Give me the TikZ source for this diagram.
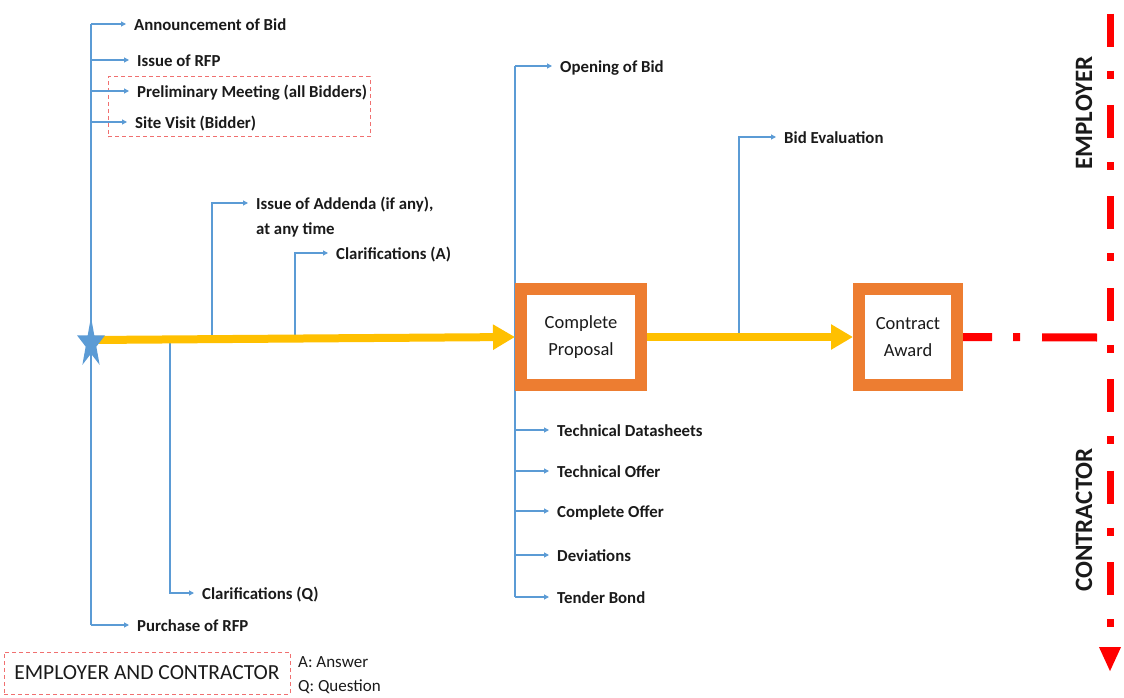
\documentclass[tikz,border=0pt]{standalone}
\usepackage{fontspec}
\setmainfont{Carlito}
\usetikzlibrary{arrows.meta}
\definecolor{lineblue}{HTML}{5B9BD5}
\definecolor{flowyellow}{HTML}{FFC000}
\definecolor{boxorange}{HTML}{ED7D31}
\definecolor{splitred}{HTML}{FF0000}
\definecolor{dashred}{HTML}{F07070}
\definecolor{txt}{HTML}{1A1A1A}
\begin{document}
\begin{tikzpicture}[x=1pt,y=-1pt,
  lbl/.style={anchor=west, inner sep=0pt, text=txt,
    font=\fontsize{16.8}{20}\selectfont\bfseries, text height=15pt, text depth=2pt},
  bline/.style={draw=lineblue, line width=1.1pt},
  barr/.style={bline, -{Triangle[length=5pt,width=5pt]}},
  flow/.style={draw=flowyellow, line width=8pt, -{Triangle[length=22pt,width=24pt]}},
  obox/.style={draw=boxorange, line width=12pt, fill=white, inner sep=0pt,
    minimum height=96pt, align=center, text=txt,
    font=\fontsize{18.5}{27}\selectfont},
  dashbox/.style={draw=dashred, line width=1pt, dash pattern=on 4pt off 3pt, inner sep=0pt},
  sidelbl/.style={rotate=90, inner sep=0pt, text=txt, font=\fontsize{25}{29}\selectfont\bfseries},
]
\useasboundingbox (0,0) rectangle (1124,698);

% ---- process boxes
\node[obox, minimum width=120pt] (cp) at (581,337) {Complete\\Proposal};
\node[obox, minimum width=98pt] (ca) at (908,337) {Contract\\Award};

% ---- start marker (centre point; the star itself is filled later)
\coordinate (star) at (91,343.5);

% ---- labels on the left trunk
\node[lbl] (lAnn)  at (134,24)  {Announcement of Bid};
\node[lbl] (lRFP)  at (137,60)  {Issue of RFP};
\node[lbl] (lPre)  at (137,91)  {Preliminary Meeting (all Bidders)};
\node[lbl] (lSite) at (135,122) {Site Visit (Bidder)};
\node[lbl] (lPur)  at (137,625) {Purchase of RFP};
\node[dashbox, minimum width=262pt, minimum height=60pt] (grp) at (239,107) {};

% ---- labels along the bidding period
\node[lbl] (lAdd)  at (256,203) {Issue of Addenda (if any),};
\node[lbl] (lAdd2) at (256,228) {at any time};
\node[lbl] (lClA)  at (336,253) {Clarifications (A)};
\node[lbl] (lClQ)  at (202,593) {Clarifications (Q)};

% ---- labels at the proposal
\node[lbl] (lOpen) at (560,66)  {Opening of Bid};
\node[lbl] (lTD)   at (557,430) {Technical Datasheets};
\node[lbl] (lTO)   at (557,471) {Technical Offer};
\node[lbl] (lCO)   at (557,511) {Complete Offer};
\node[lbl] (lDev)  at (557,555) {Deviations};
\node[lbl] (lTB)   at (557,597) {Tender Bond};
\node[lbl] (lEval) at (784,137) {Bid Evaluation};

% ---- junctions on the main flow
\coordinate (yStart) at (91,340);
\coordinate (jQ)  at (170,340);
\coordinate (jAd) at (212,339);
\coordinate (jA)  at (295,338);
\coordinate (jEv) at (739,337);

% ---- left trunk and its branches
\draw[bline] (star |- lAnn.west) -- (star |- lPur.west);
\foreach \n in {lAnn,lRFP,lPre,lSite,lPur}
  \draw[barr] (star |- \n.west) -- ([xshift=-8pt]\n.west);

% ---- branches off the main flow
\draw[barr] (jAd) |- ([xshift=-8pt]lAdd.west);
\draw[barr] (jA)  |- ([xshift=-8pt]lClA.west);
\draw[barr] (jQ)  |- ([xshift=-8pt]lClQ.west);
\draw[barr] (jEv) |- ([xshift=-8pt]lEval.west);

% ---- proposal trunk and its branches
\draw[bline] (cp.west |- lOpen.west) -- (cp.west |- lTB.west);
\foreach \n in {lOpen,lTD,lTO,lCO,lDev,lTB}
  \draw[barr] (cp.west |- \n.west) -- ([xshift=-8pt]\n.west);

% ---- main flow
\draw[flow] (yStart) -- (cp.west);
\draw[flow] (cp.east) -- (ca.west);

% redraw boxes on top of the lines
\node[obox, minimum width=120pt] at (cp) {Complete\\Proposal};
\node[obox, minimum width=98pt] at (ca) {Contract\\Award};

% five-pointed start marker, taller than wide
\fill[lineblue] plot[samples at={0,1,...,9}, variable=\k]
  ({91+(14.7-9.08*mod(\k,2))*cos(90+36*\k)},
   {343.5-1.8*(14.7-9.08*mod(\k,2))*sin(90+36*\k)}) -- cycle;

% ---- employer / contractor split
\coordinate (rEnd) at (1097,337.5);
\coordinate (vTop) at (1110,13.6);
\coordinate (vBot) at (1110,672);
\draw[splitred, line width=8pt, dash pattern=on 29pt off 21pt on 7pt off 22pt on 60pt off 10pt]
  (ca.east) -- (rEnd);
\draw[splitred, line width=7pt, dash pattern=on 33pt off 24pt on 8pt off 26.4pt,
      -{Triangle[length=25pt,width=20pt]}] (vTop) -- (vBot);
\node[sidelbl] (emp) at (1084,113) {EMPLOYER};
\node[sidelbl] (con) at (1084,520) {CONTRACTOR};

% ---- legend
\node[dashbox, minimum width=286pt, minimum height=42pt, text=txt,
      font=\fontsize{21.5}{24}\selectfont] (leg) at (147,673) {EMPLOYER AND CONTRACTOR};
\node[anchor=west, inner sep=0pt, text=txt, font=\fontsize{17}{20}\selectfont] (kA) at (298,662) {A: Answer};
\node[anchor=west, inner sep=0pt, text=txt, font=\fontsize{17}{20}\selectfont] (kQ) at (298,687) {Q: Question};
\end{tikzpicture}
\end{document}
